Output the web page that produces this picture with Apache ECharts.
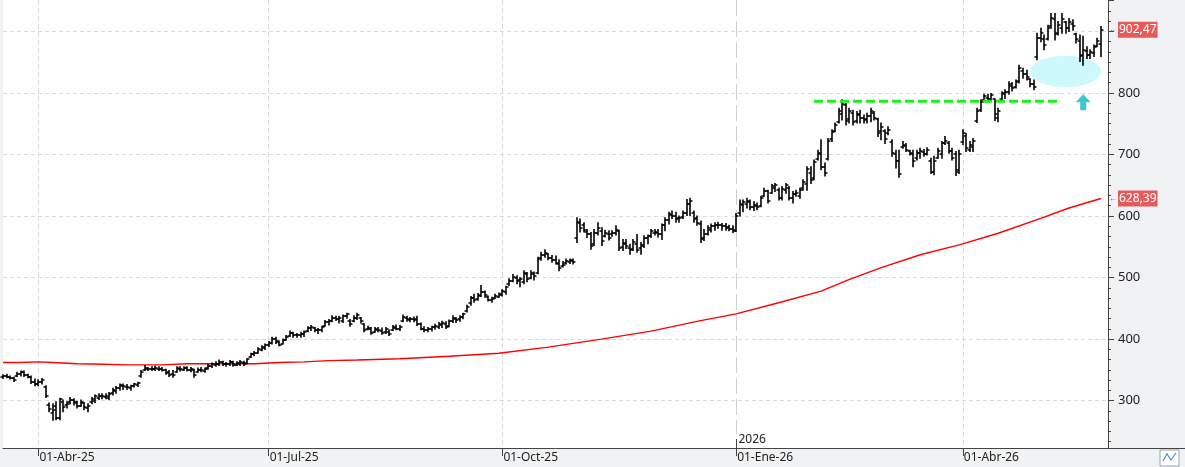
<!DOCTYPE html>
<html>
<head>
<meta charset="utf-8">
<title>OHLC</title>
<script src="https://cdn.jsdelivr.net/npm/echarts@6/dist/echarts.min.js"></script>
<style>
  html, body { margin: 0; padding: 0; background: #f1f2f4; }
  #chart { width: 1185px; height: 467px; }
</style>
</head>
<body>
<div id="chart"></div>
<script>
// daily bars, weekdays starting here
const startDate = '2025-03-18';
const barCount = 313;

const opens = [
  338,340,339,336,340,344,346,342,339,331, 327,330,322,293,280,292,272,298,293,297,
  301,297,292,296,288,297,300,305,307,306, 305,312,316,320,323,322,321,324,326,340,
  350,352,351,352,351,352,349,346,343,347, 352,350,353,350,350,347,350,348,353,357,
  358,360,362,360,359,362,358,360,361,361, 371,375,378,383,386,390,394,400,395,392,
  399,405,410,406,406,408,413,418,418,414, 414,422,427,430,434,432,430,437,430,429,
  435,434,424,416,417,411,415,413,411,412, 415,418,417,430,435,431,432,433,424,417,
  414,416,419,420,423,424,421,430,433,432, 436,446,458,466,465,470,477,468,463,467,
  469,472,476,490,495,500,496,493,506,500, 505,508,532,536,538,532,528,522,518,524,
  526,527,565,588,585,574,570,555,572,575, 568,570,570,572,575,550,555,548,546,555,
  548,552,564,567,572,573,570,585,594,602, 600,596,598,605,620,605,596,587,565,571,
  578,584,586,585,583,582,579,576,605,618, 620,622,614,616,617,632,640,638,646,643,
  630,642,645,630,635,633,645,652,670,662, 692,700,680,692,725,738,752,765,780,758,
  768,755,764,760,757,762,768,758,738,738, 735,720,700,690,712,714,706,700,695,702,
  704,700,690,672,695,700,718,718,705,700, 675,720,730,708,712,755,772,788,792,790,
  790,760,790,798,802,812,810,820,836,830, 822,815,858,890,888,888,908,920,898,905,
  915,905,912,895,885,862,868,862,865,876, 880
];
const highs = [
  342,343,340,338,346,348,348,343,340,335, 334,336,324,296,295,298,304,301,298,305,
  303,299,301,297,295,305,309,311,311,311, 313,320,323,327,327,326,325,328,330,349,
  357,354,355,356,355,354,351,349,349,355, 355,355,355,354,351,353,354,353,359,361,
  363,366,364,362,365,364,363,365,364,368, 377,380,386,389,392,396,403,403,397,400,
  406,413,411,409,411,413,420,422,419,417, 421,430,432,438,437,437,439,442,432,438,
  442,435,425,421,419,419,419,418,419,415, 422,423,422,439,437,435,436,437,426,420,
  419,421,424,427,429,428,431,438,435,438, 442,455,469,473,474,487,478,470,468,473,
  475,480,486,498,505,503,500,511,508,511, 509,533,541,545,539,536,535,529,526,530,
  530,530,597,595,589,578,573,578,589,581, 577,576,576,584,577,562,562,554,562,570,
  557,568,569,578,578,578,587,597,606,608, 606,600,608,627,629,608,600,592,578,584,
  587,589,590,588,588,585,584,604,626,626, 629,626,623,621,632,645,642,651,653,645,
  648,653,648,640,642,645,659,680,680,691, 707,724,686,726,740,751,775,789,783,775,
  772,770,772,764,767,775,770,759,751,740, 745,724,707,707,721,718,707,707,707,710,
  708,711,694,697,710,721,729,721,710,705, 707,740,734,721,726,775,789,798,798,799,
  790,775,802,805,818,817,821,845,840,837, 823,821,897,905,894,910,929,929,916,929,
  916,921,919,897,894,892,875,870,878,889, 908
];
const lows = [
  336,337,335,331,339,340,339,337,328,324, 324,327,305,282,268,269,269,282,288,295,
  293,288,291,285,282,295,297,302,303,303, 302,309,312,317,318,318,317,322,323,338,
  349,349,349,349,349,348,343,339,338,346, 348,349,348,347,338,346,347,346,351,354,
  356,357,357,356,357,356,357,357,357,360, 370,373,377,381,383,388,392,393,389,392,
  398,404,403,403,403,404,412,414,412,409, 412,421,423,428,430,426,427,434,421,428,
  432,426,412,415,408,411,412,408,409,406, 414,415,414,428,429,428,428,422,415,412,
  412,413,416,417,419,417,420,427,427,429, 433,444,455,460,463,469,468,462,460,466,
  468,470,473,487,493,490,485,490,493,498, 496,506,528,533,529,525,522,511,517,522,
  523,522,557,574,574,565,546,552,569,552, 566,561,567,569,544,544,547,538,544,541,
  538,549,555,565,569,566,562,576,587,596, 590,590,596,601,601,590,585,557,560,569,
  574,577,580,577,577,576,573,575,600,607, 613,610,609,610,615,632,621,637,640,626,
  626,637,626,621,632,629,642,642,653,659, 691,675,665,691,721,737,751,756,748,751,
  748,751,751,751,751,753,756,729,724,718, 732,697,678,663,710,705,699,680,691,694,
  697,699,669,667,694,694,716,702,691,666, 669,716,705,705,705,752,770,786,786,786,
  755,753,786,791,798,803,808,816,824,821, 810,805,854,883,870,886,905,886,894,897,
  897,900,902,881,851,845,856,856,859,875, 859
];
const closes = [
  340,339,336,333,344,346,342,339,331,327, 330,333,308,286,285,272,302,290,295,301,
  296,291,298,289,291,303,307,307,308,307, 311,318,321,325,324,322,323,327,328,346,
  353,351,352,353,352,350,345,342,341,353, 351,353,350,352,341,350,349,352,357,359,
  360,363,360,359,363,358,361,362,360,367, 375,378,384,387,390,394,400,397,391,398,
  404,410,406,407,409,411,418,419,414,415, 419,428,430,435,433,435,437,440,425,435,
  439,429,415,418,410,416,414,410,416,409, 420,417,420,436,432,433,431,424,417,414,
  416,419,421,424,426,420,429,435,431,436, 440,452,466,463,471,476,472,464,465,470,
  473,478,484,495,501,494,497,508,497,508, 503,530,536,540,531,528,524,516,520,527,
  528,526,590,580,577,570,552,573,580,560, 572,565,573,578,548,556,552,545,558,545,
  553,565,567,575,574,570,585,594,603,600, 595,597,605,620,625,595,588,562,570,580,
  584,586,585,583,581,579,577,600,620,622, 625,615,618,614,629,641,625,648,650,630,
  644,650,630,635,638,642,655,676,658,688, 703,680,670,722,736,748,770,782,755,770,
  752,765,760,756,763,770,760,735,745,725, 740,702,690,668,716,708,702,690,703,706,
  700,708,672,690,705,718,722,706,695,672, 700,735,710,716,722,770,785,795,790,796,
  765,770,800,802,815,808,818,840,830,826, 815,810,890,898,878,905,922,895,910,920,
  905,915,908,888,860,870,862,866,875,885, 902.47
];

// moving average, read at these bar positions
const maIndex = [0, 5, 10, 14, 21, 28, 35, 45, 52, 62, 71, 78, 85, 92, 100, 112, 126, 140, 154, 169, 183, 197, 207, 219, 231, 239, 248, 259, 270, 281, 293, 301, 310];
const maValues = [362, 362, 363, 362, 360, 359, 358, 358, 360, 360, 360, 362, 363, 365, 366, 368, 372, 377, 387, 400, 413, 430, 441, 459, 478, 497, 516, 537, 553, 572, 596, 613, 628.39];

// annotations
const resistanceLevel = 786.5;
const resistanceFrom = 229;
const resistanceTo = 298;
const ellipseCenter = [300, 835];
const ellipseRadius = [10, 25.5];   // bars, price units
const arrowTip = [305, 798];
const arrowBase = 772;
const yearIndex = 207;
const lastPrice = 902.47;
const lastMa = 628.39;

const yMin = 223;
const yMax = 951;
const monthNames = ['Ene', 'Feb', 'Mar', 'Abr', 'May', 'Jun', 'Jul', 'Ago', 'Sep', 'Oct', 'Nov', 'Dic'];

const categories = [];
const day = new Date(startDate + 'T12:00:00Z');
while (categories.length < barCount) {
  const wd = day.getUTCDay();
  if (wd !== 0 && wd !== 6) categories.push(day.toISOString().slice(0, 10));
  day.setUTCDate(day.getUTCDate() + 1);
}
const quarterStart = categories.map((c, i) =>
  i > 0 && c.slice(5, 7) !== categories[i - 1].slice(5, 7) && ['01', '04', '07', '10'].includes(c.slice(5, 7)));

const ohlcData = closes.map((c, i) => [i, opens[i], highs[i], lows[i], c]);
const maData = maIndex.map((x, i) => [x, maValues[i]]);
const fmt = v => v.toFixed(2).replace('.', ',');

const chart = echarts.init(document.getElementById('chart'));

function renderBar(params, api) {
  const i = api.value(0);
  const o = api.coord([i, api.value(1)]);
  const h = api.coord([i, api.value(2)]);
  const l = api.coord([i, api.value(3)]);
  const c = api.coord([i, api.value(4)]);
  const x = Math.round(o[0]);
  const st = { stroke: '#000', lineWidth: 1.6 };
  const tk = { stroke: '#000', lineWidth: 1.5 };
  return {
    type: 'group',
    children: [
      { type: 'line', shape: { x1: x, y1: h[1] - 0.5, x2: x, y2: l[1] + 0.5 }, style: st },
      { type: 'line', shape: { x1: x - 2.5, y1: Math.round(o[1]), x2: x, y2: Math.round(o[1]) }, style: tk },
      { type: 'line', shape: { x1: x, y1: Math.round(c[1]), x2: x + 2.5, y2: Math.round(c[1]) }, style: tk }
    ]
  };
}

function renderEllipse(params, api) {
  const cx = api.value(0), cy = api.value(1);
  const c = api.coord([cx, cy]);
  const left = api.coord([cx - ellipseRadius[0], cy]);
  const ry = api.size([0, ellipseRadius[1]])[1];
  return {
    type: 'ellipse',
    shape: { cx: c[0], cy: c[1], rx: c[0] - left[0], ry: ry },
    style: { fill: '#cdf9fc' }
  };
}

function renderArrow(params, api) {
  const tip = api.coord([api.value(0), api.value(1)]);
  const base = api.coord([api.value(0), api.value(2)]);
  const hw = 7.5, hh = 8, sw = 3;
  const x = tip[0], y = tip[1];
  return {
    type: 'polygon',
    shape: {
      points: [[x, y], [x + hw, y + hh], [x + sw, y + hh], [x + sw, base[1]],
               [x - sw, base[1]], [x - sw, y + hh], [x - hw, y + hh]]
    },
    style: { fill: '#3cc8cc' }
  };
}

function renderYear(params, api) {
  const top = api.coord([api.value(0), yMax]);
  const bottom = api.coord([api.value(0), yMin]);
  const x = Math.round(top[0]) + 0.5;
  return {
    type: 'group',
    children: [
      { type: 'line', shape: { x1: x, y1: top[1], x2: x, y2: bottom[1] - 14 },
        style: { stroke: '#cfcfcf', lineWidth: 1, lineDash: [16, 5] } },
      { type: 'line', shape: { x1: x, y1: bottom[1] - 9, x2: x, y2: bottom[1] },
        style: { stroke: '#444', lineWidth: 1 } },
      { type: 'text', x: x + 2, y: bottom[1] - 2,
        style: { text: '2026', fill: '#222', font: '12px "Noto Sans"', verticalAlign: 'bottom' } }
    ]
  };
}

function priceTag(value) {
  return {
    silent: true,
    symbol: 'none',
    lineStyle: { color: 'rgba(0,0,0,0)', width: 0, opacity: 1 },
    label: {
      show: true,
      opacity: 1,
      position: 'end',
      distance: 1,
      formatter: '{a|←}{b|' + fmt(value) + '}',
      rich: {
        a: { color: '#555', fontSize: 8, padding: [0, 1, 0, 0] },
        b: { color: '#fff', backgroundColor: '#e65a5a', fontFamily: 'Noto Sans', fontSize: 12, lineHeight: 14, padding: [2, 1, 2, 1] }
      }
    },
    data: [{ yAxis: value }]
  };
}

const option = {
  animation: false,
  backgroundColor: '#f1f2f4',
  grid: { left: 3, right: 77, top: 0, bottom: 19, show: true, backgroundColor: '#ffffff', borderWidth: 0 },
  xAxis: {
    type: 'category',
    data: categories,
    boundaryGap: false,
    axisLine: { lineStyle: { color: '#444', width: 1 } },
    axisTick: { interval: i => quarterStart[i], length: 8, lineStyle: { color: '#444' } },
    axisLabel: {
      interval: i => quarterStart[i],
      align: 'left',
      margin: 4,
      padding: [0, 0, 0, 1],
      color: '#222',
      fontFamily: 'Noto Sans',
      fontSize: 12,
      formatter: v => '01-' + monthNames[+v.slice(5, 7) - 1] + '-' + v.slice(2, 4)
    },
    splitLine: {
      show: true,
      interval: i => quarterStart[i] && categories[i].slice(5, 7) !== '01',
      lineStyle: { color: '#dcdcdc', type: [5, 3] }
    }
  },
  yAxis: {
    type: 'value',
    position: 'right',
    min: yMin,
    max: yMax,
    splitNumber: 7,
    axisLine: { show: true, lineStyle: { color: '#444' } },
    axisTick: { show: true, length: 6, lineStyle: { color: '#444' } },
    minorTick: { show: true, splitNumber: 6, length: 3, lineStyle: { color: '#444' } },
    axisLabel: { margin: 10, color: '#222', fontFamily: 'Noto Sans', fontSize: 13, showMinLabel: false, showMaxLabel: false },
    splitLine: { show: true, showMinLine: false, showMaxLine: false, lineStyle: { color: '#dcdcdc', type: [4, 3] } }
  },
  series: [
    {
      name: 'zona',
      type: 'custom',
      renderItem: renderEllipse,
      data: [ellipseCenter],
      silent: true,
      z: 1
    },
    {
      name: 'año',
      type: 'custom',
      renderItem: renderYear,
      data: [[yearIndex]],
      silent: true,
      z: 1
    },
    {
      name: 'media',
      type: 'line',
      data: maData,
      symbol: 'none',
      clip: false,
      lineStyle: { color: '#ff0000', width: 1.4 },
      z: 2,
      markLine: priceTag(lastMa)
    },
    {
      name: 'precio',
      type: 'custom',
      renderItem: renderBar,
      data: ohlcData,
      encode: { x: 0, y: [1, 2, 3, 4] },
      z: 3,
      markLine: priceTag(lastPrice)
    },
    {
      name: 'resistencia',
      type: 'line',
      data: [[resistanceFrom, resistanceLevel], [resistanceTo, resistanceLevel]],
      symbol: 'none',
      lineStyle: { color: '#1cf01c', width: 3, type: [9, 4] },
      z: 4
    },
    {
      name: 'flecha',
      type: 'custom',
      renderItem: renderArrow,
      data: [[arrowTip[0], arrowTip[1], arrowBase]],
      silent: true,
      z: 4
    }
  ],
  graphic: [
    { type: 'line', shape: { x1: 1108, y1: 448.5, x2: 1185, y2: 448.5 }, style: { stroke: '#444', lineWidth: 1 } },
    { type: 'rect', shape: { x: 1160, y: 450, width: 19, height: 16 }, style: { fill: '#fff', stroke: '#9aa4ae' } },
    { type: 'polyline', shape: { points: [[1163, 461], [1167, 454], [1171, 460], [1176, 453]] }, style: { stroke: '#4a90d9', lineWidth: 1.2, fill: null } }
  ]
};

chart.setOption(option);
</script>
</body>
</html>
